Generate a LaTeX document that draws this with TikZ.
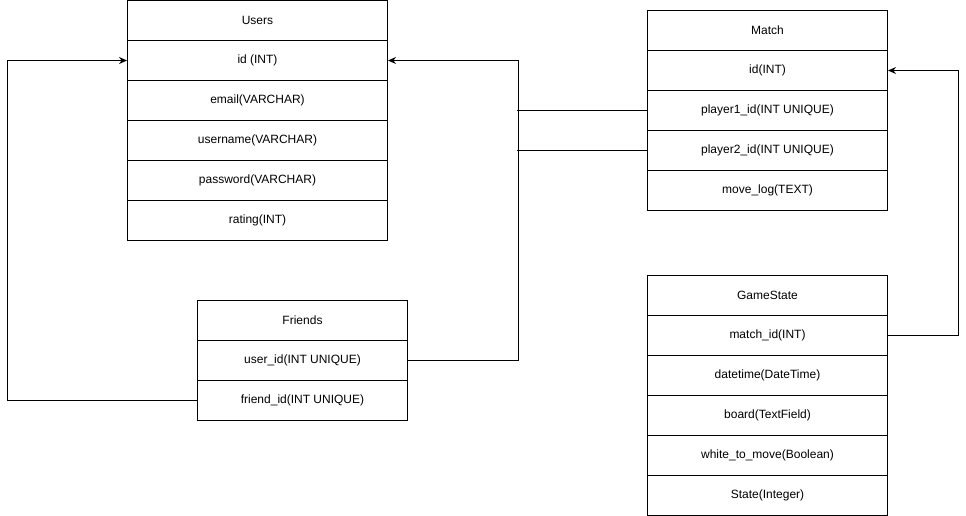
\documentclass[tikz,border=0pt]{standalone}
\usepackage{fontspec}
\setmainfont{Liberation Sans}
\usetikzlibrary{arrows.meta}
\begin{document}
\begin{tikzpicture}[x=1pt,y=-1pt,
  row/.style={draw, line width=1pt, minimum height=40pt, inner sep=0pt, anchor=north west, font=\fontsize{12}{14}\selectfont},
  conn/.style={line width=1pt, -{Stealth[length=8pt,width=7pt]}},
  plain/.style={line width=1pt}]
\useasboundingbox (0,0) rectangle (966,516);
% Users
\node[row, minimum width=260pt] (u0) at (127,0) {Users};
\node[row, minimum width=260pt] (u1) at (127,40) {id (INT)};
\node[row, minimum width=260pt] (u2) at (127,80) {email(VARCHAR)};
\node[row, minimum width=260pt] (u3) at (127,120) {username(VARCHAR)};
\node[row, minimum width=260pt] (u4) at (127,160) {password(VARCHAR)};
\node[row, minimum width=260pt] (u5) at (127,200) {rating(INT)};
% Match
\node[row, minimum width=240pt] (m0) at (647,10) {Match};
\node[row, minimum width=240pt] (m1) at (647,50) {id(INT)};
\node[row, minimum width=240pt] (m2) at (647,90) {player1\_id(INT UNIQUE)};
\node[row, minimum width=240pt] (m3) at (647,130) {player2\_id(INT UNIQUE)};
\node[row, minimum width=240pt] (m4) at (647,170) {move\_log(TEXT)};
% GameState
\node[row, minimum width=240pt] (g0) at (647,275) {GameState};
\node[row, minimum width=240pt] (g1) at (647,315) {match\_id(INT)};
\node[row, minimum width=240pt] (g2) at (647,355) {datetime(DateTime)};
\node[row, minimum width=240pt] (g3) at (647,395) {board(TextField)};
\node[row, minimum width=240pt] (g4) at (647,435) {white\_to\_move(Boolean)};
\node[row, minimum width=240pt] (g5) at (647,475) {State(Integer)};
% Friends
\node[row, minimum width=210pt] (f0) at (197,300) {Friends};
\node[row, minimum width=210pt] (f1) at (197,340) {user\_id(INT UNIQUE)};
\node[row, minimum width=210pt] (f2) at (197,380) {friend\_id(INT UNIQUE)};
% connectors
\draw[conn] (f2.west) -- ++(-190,0) |- (u1.west);
\draw[conn] (f1.east) -- ++(110,0) |- (u1.east);
\draw[plain] (m2.west) -- ++(-130,0);
\draw[plain] (m3.west) -- ++(-130,0);
\draw[conn] (g1.east) -- ++(70,0) |- (m1.east);
\end{tikzpicture}
\end{document}
